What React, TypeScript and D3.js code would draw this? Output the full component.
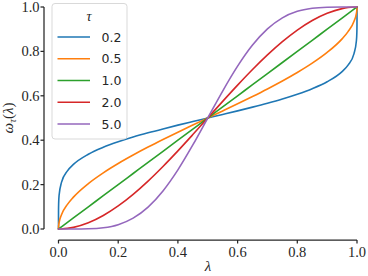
import React from 'react';
import * as d3 from 'd3';

// lambda grid (shared by all curves)
const lambda = [0, 0.00001, 0.0001, 0.0005, 0.002, 0.01, 0.03, 0.05, 0.1, 0.15, 0.2, 0.25, 0.3, 0.35, 0.4, 0.45, 0.5,
  0.55, 0.6, 0.65, 0.7, 0.75, 0.8, 0.85, 0.9, 0.95, 0.97, 0.99, 0.998, 0.9995, 0.9999, 0.99999, 1];

// omega_tau(lambda)
const omega02 = [0, 0.0526, 0.0834, 0.1151, 0.1519, 0.2098, 0.262, 0.291, 0.3367, 0.3679, 0.3927, 0.4141, 0.4332, 0.4509, 0.4678, 0.484, 0.5,
  0.516, 0.5322, 0.5491, 0.5668, 0.5859, 0.6073, 0.6321, 0.6633, 0.709, 0.738, 0.7902, 0.8481, 0.8849, 0.9166, 0.9474, 1];
const omega05 = [0, 0.002, 0.0064, 0.0142, 0.0285, 0.0638, 0.1108, 0.1436, 0.2048, 0.2532, 0.2952, 0.3333, 0.369, 0.403, 0.4359, 0.4681, 0.5,
  0.5319, 0.5641, 0.597, 0.631, 0.6667, 0.7048, 0.7468, 0.7952, 0.8564, 0.8892, 0.9362, 0.9715, 0.9858, 0.9936, 0.998, 1];
const omega10 = [0, 0.00001, 0.0001, 0.0005, 0.002, 0.01, 0.03, 0.05, 0.1, 0.15, 0.2, 0.25, 0.3, 0.35, 0.4, 0.45, 0.5,
  0.55, 0.6, 0.65, 0.7, 0.75, 0.8, 0.85, 0.9, 0.95, 0.97, 0.99, 0.998, 0.9995, 0.9999, 0.99999, 1];
const omega20 = [0, 0, 0, 0, 0.00001, 0.0003, 0.0027, 0.0073, 0.028, 0.0608, 0.104, 0.1563, 0.216, 0.2818, 0.352, 0.4253, 0.5,
  0.5748, 0.648, 0.7183, 0.784, 0.8438, 0.896, 0.9393, 0.972, 0.9928, 0.9974, 0.9997, 1, 1, 1, 1, 1];
const omega50 = [0, 0, 0, 0, 0, 0, 0, 0.00003, 0.0009, 0.0056, 0.0196, 0.0489, 0.0988, 0.1717, 0.2666, 0.3786, 0.5,
  0.6214, 0.7334, 0.8283, 0.9012, 0.9511, 0.9804, 0.9944, 0.9991, 1, 1, 1, 1, 1, 1, 1, 1];

const tauLabels = ['0.2', '0.5', '1.0', '2.0', '5.0'];
const series = [omega02, omega05, omega10, omega20, omega50];
const colors = ['#1f77b4', '#ff7f0e', '#2ca02c', '#d62728', '#9467bd'];
const xTicks = [0, 0.2, 0.4, 0.6, 0.8, 1.0];
const yTicks = [0, 0.2, 0.4, 0.6, 0.8, 1.0];

const W = 368;
const H = 276;
const ink = '#262626';
const serif = '"Liberation Serif", "DejaVu Serif", serif';
const sans = '"DejaVu Sans", sans-serif';

export default function App() {
  const x = d3.scaleLinear().domain([0, 1]).range([58.5, 357]);
  const y = d3.scaleLinear().domain([0, 1]).range([229, 7]);
  const fmt = d3.format('.1f');

  const line = d3.line<number>()
    .x((_, i) => x(lambda[i]))
    .y(d => y(d))
    .curve(d3.curveMonotoneX);

  const yAxisX = 44;
  const xAxisY = 240;

  return (
    <svg width={W} height={H} style={{ position: 'absolute', left: 0, top: 0, background: '#fff' }}>
      {/* curves */}
      <g fill="none" strokeWidth={1.6} strokeLinecap="round">
        {series.map((s, i) => (
          <path key={i} d={line(s) || ''} stroke={colors[i]} />
        ))}
      </g>

      {/* y axis */}
      <g>
        <line x1={yAxisX} x2={yAxisX} y1={y(0)} y2={y(1)} stroke={ink} strokeWidth={1.25} />
        {yTicks.map(t => (
          <g key={t} transform={`translate(0,${y(t)})`}>
            <line x1={yAxisX - 3.5} x2={yAxisX} stroke={ink} strokeWidth={1.25} />
            <text x={39.5} dy="0.34em" textAnchor="end" fontFamily={serif} fontSize={14.5} fill={ink}>{fmt(t)}</text>
          </g>
        ))}
      </g>

      {/* x axis */}
      <g>
        <line x1={x(0)} x2={x(1)} y1={xAxisY} y2={xAxisY} stroke={ink} strokeWidth={1.25} />
        {xTicks.map(t => (
          <g key={t} transform={`translate(${x(t)},0)`}>
            <line y1={xAxisY} y2={xAxisY + 3.5} stroke={ink} strokeWidth={1.25} />
            <text y={257} textAnchor="middle" fontFamily={serif} fontSize={14.5} fill={ink}>{fmt(t)}</text>
          </g>
        ))}
      </g>

      {/* axis labels */}
      <text x={208} y={271} textAnchor="middle" fontFamily={serif} fontStyle="italic" fontSize={15} fill={ink}>λ</text>
      <text transform="translate(13,118) rotate(-90)" textAnchor="middle" fontFamily={serif} fontSize={15} fill={ink}>
        <tspan fontStyle="italic">ω</tspan>
        <tspan fontStyle="italic" fontSize={10.5} dy={3}>τ</tspan>
        <tspan dy={-3}>(</tspan>
        <tspan fontStyle="italic">λ</tspan>
        <tspan>)</tspan>
      </text>

      {/* legend */}
      <g>
        <rect x={52} y={3.5} width={75} height={135.5} rx={3} fill="#fff" fillOpacity={0.85} stroke="#d9d9d9" strokeWidth={1} />
        <text x={89} y={21} textAnchor="middle" fontFamily={serif} fontStyle="italic" fontSize={14} fill={ink}>τ</text>
        {tauLabels.map((lab, i) => {
          const ly = 37 + i * 21.75;
          return (
            <g key={lab}>
              <line x1={57.5} x2={90} y1={ly} y2={ly} stroke={colors[i]} strokeWidth={1.6} />
              <text x={101.5} y={ly} dy="0.36em" fontFamily={sans} fontSize={12.5} fill={ink}>{lab}</text>
            </g>
          );
        })}
      </g>
    </svg>
  );
}
